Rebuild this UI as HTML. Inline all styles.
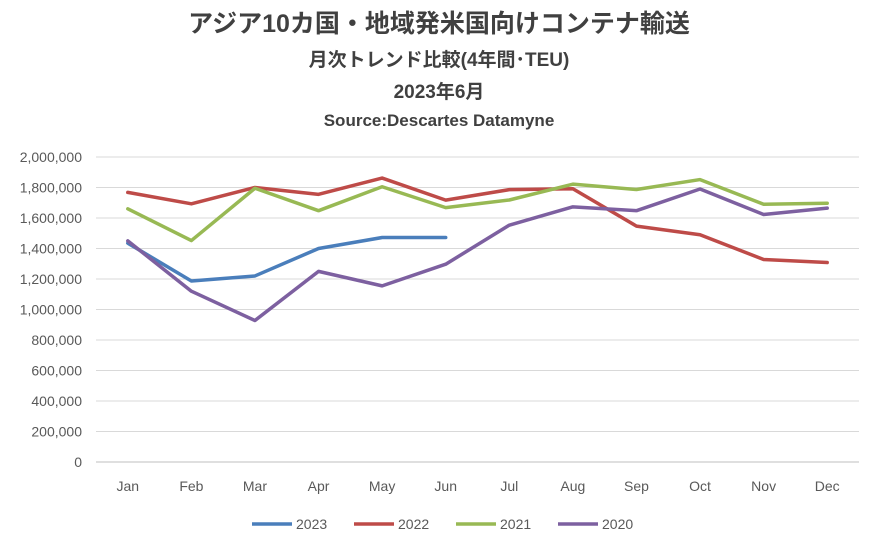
<!DOCTYPE html>
<html><head><meta charset="utf-8"><style>
body{margin:0;background:#fff;}
svg{display:block;font-family:"Liberation Sans","Noto Sans CJK JP",sans-serif;}
</style></head><body>
<svg width="878" height="546" viewBox="0 0 878 546">
<g fill="#404040" font-weight="bold" text-anchor="middle">
<text x="439" y="32" font-size="25">アジア10カ国・地域発米国向けコンテナ輸送</text>
<text x="439" y="66" font-size="19">月次トレンド比較(4年間･TEU)</text>
<text x="439" y="98" font-size="19">2023年6月</text>
<text x="439" y="126" font-size="17">Source:Descartes Datamyne</text>
</g>
<g id="grid"></g><g id="yt"></g><g id="xt"></g><g id="lines"></g><g id="legend"></g>
</svg>
<script>
const months=["Jan","Feb","Mar","Apr","May","Jun","Jul","Aug","Sep","Oct","Nov","Dec"];
const yTicks=[0,200000,400000,600000,800000,1000000,1200000,1400000,1600000,1800000,2000000];
const seriesNames=["2023","2022","2021","2020"];
const s2023=[1435000,1187000,1220000,1400000,1472000,1472000];
const s2022=[1768000,1693000,1800000,1755000,1862000,1717000,1786000,1792000,1547000,1490000,1328000,1308000];
const s2021=[1660000,1452000,1795000,1648000,1805000,1668000,1718000,1822000,1787000,1852000,1690000,1697000];
const s2020=[1450000,1120000,928000,1250000,1155000,1297000,1553000,1673000,1648000,1790000,1623000,1665000];
const colors=["#4A7EBB","#BE4B48","#98B954","#7D60A0"];
const NS="http://www.w3.org/2000/svg";
const X0=96,X1=859,Y0=462,Y1=157;
const step=(X1-X0)/12;
const x=i=>X0+step*(i+0.5);
const y=v=>Y0-(v/2000000)*(Y0-Y1);
function mk(t,a,p){const e=document.createElementNS(NS,t);for(const k in a)e.setAttribute(k,a[k]);p.appendChild(e);return e;}
const grid=document.getElementById('grid'),yt=document.getElementById('yt'),xt=document.getElementById('xt'),lines=document.getElementById('lines'),lg=document.getElementById('legend');
yTicks.forEach(v=>{
 const l=mk('line',{x1:X0,x2:X1,y1:y(v),y2:y(v),stroke:v===0?'#bfbfbf':'#d9d9d9','stroke-width':1},grid);
 
 
 const t=mk('text',{x:82,y:y(v)+5,'text-anchor':'end','font-size':14,fill:'#595959'},yt);
 t.textContent=v.toLocaleString('en-US');
 
 
});
months.forEach((m,i)=>{
 const t=mk('text',{x:x(i),y:491,'text-anchor':'middle','font-size':14,fill:'#595959'},xt);
 t.textContent=m;
 
 
});
[s2023,s2022,s2021,s2020].forEach((s,k)=>{
 const p=mk('polyline',{points:s.map((v,i)=>x(i)+','+y(v)).join(' '),fill:'none',stroke:colors[k],'stroke-width':3.5,'stroke-linejoin':'round','stroke-linecap':'round'},lines);
 
 
 const lx=252+102*k;
 const g=mk('g',{},lg);
 
 
 mk('line',{x1:lx,x2:lx+40,y1:524,y2:524,stroke:colors[k],'stroke-width':3.5},g);
 const t=mk('text',{x:lx+44,y:529,'font-size':14,fill:'#595959'},g);
 t.textContent=seriesNames[k];
});
</script>
</body></html>
